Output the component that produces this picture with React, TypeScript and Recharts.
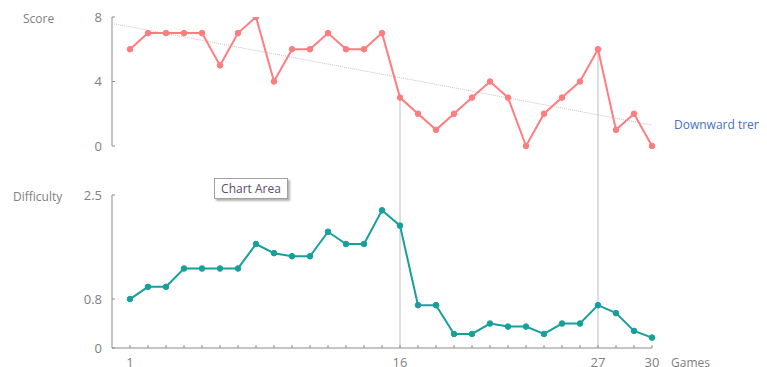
import React from 'react';
import { ComposedChart, Line, XAxis, YAxis, ReferenceLine } from 'recharts';

const games = [1, 2, 3, 4, 5, 6, 7, 8, 9, 10, 11, 12, 13, 14, 15, 16, 17, 18, 19, 20, 21, 22, 23, 24, 25, 26, 27, 28, 29, 30];
const scores = [6, 7, 7, 7, 7, 5, 7, 8, 4, 6, 6, 7, 6, 6, 7, 3, 2, 1, 2, 3, 4, 3, 0, 2, 3, 4, 6, 1, 2, 0];
const difficulty = [0.8, 1.0, 1.0, 1.3, 1.3, 1.3, 1.3, 1.7, 1.55, 1.5, 1.5, 1.9, 1.7, 1.7, 2.25, 2.0, 0.7, 0.7, 0.23, 0.23, 0.4, 0.35, 0.35, 0.23, 0.4, 0.4, 0.7, 0.57, 0.28, 0.17];
const scoreTicks = [0, 4, 8];
const difficultyTicks = [0, 0.8, 2.5];
const labeledGames = [1, 16, 27, 30];
const trendGames = [0, 30];
const trendValues = [7.6, 1.3];
const dropGames = [16, 27];

const data = games.map((g, i) => ({ game: g, score: scores[i], difficulty: difficulty[i] }));
const trendData = trendGames.map((g, i) => ({ game: g, trend: trendValues[i] }));

const FONT = '"Open Sans", "Noto Sans", sans-serif';
const AXIS_COLOR = '#8c8c8c';
const TEXT_COLOR = '#7f7f7f';
const AXIS_X = 104;
const SCORE_DOMAIN: [number, number] = [-12.53, 8];
const DIFF_DOMAIN: [number, number] = [0, 5.41];

const YTick = (props: any) => {
  const { y, payload } = props;
  return (
    <g>
      <line x1={AXIS_X} x2={AXIS_X + 3} y1={y} y2={y} stroke={AXIS_COLOR} />
      <text x={AXIS_X - 10} y={y} dy="0.35em" textAnchor="end" fill={TEXT_COLOR} fontSize={13} fontFamily={FONT}>
        {payload.value}
      </text>
    </g>
  );
};

const XTick = (props: any) => {
  const { x, y, payload } = props;
  return (
    <g>
      <line x1={x} x2={x} y1={y} y2={y - 3} stroke={AXIS_COLOR} />
      {labeledGames.includes(payload.value) && (
        <text x={x} y={y + 14} dy="0.35em" textAnchor="middle" fill={TEXT_COLOR} fontSize={13} fontFamily={FONT}>
          {payload.value}
        </text>
      )}
    </g>
  );
};

const label = (extra: React.CSSProperties): React.CSSProperties => ({
  position: 'absolute',
  fontFamily: FONT,
  fontSize: 12,
  lineHeight: '16px',
  color: TEXT_COLOR,
  whiteSpace: 'nowrap',
  ...extra,
});

export default function App() {
  return (
    <div style={{ position: 'relative', width: 759, height: 359, overflow: 'hidden' }}>
      <ComposedChart width={759} height={359} data={data} margin={{ top: 9, right: 114, bottom: 0, left: 0 }}>
        <XAxis
          dataKey="game"
          type="number"
          domain={[0, 30]}
          ticks={games}
          interval={0}
          tickSize={0}
          tickMargin={0}
          height={19}
          axisLine={{ stroke: AXIS_COLOR }}
          tickLine={false}
          tick={<XTick />}
        />
        <YAxis
          yAxisId="s"
          orientation="left"
          width={104}
          domain={SCORE_DOMAIN}
          ticks={scoreTicks}
          interval={0}
          allowDataOverflow
          axisLine={false}
          tickLine={false}
          tick={<YTick />}
        />
        <YAxis
          yAxisId="d"
          orientation="right"
          width={1}
          domain={DIFF_DOMAIN}
          ticks={difficultyTicks}
          interval={0}
          allowDataOverflow
          axisLine={false}
          tickLine={false}
          tick={<YTick />}
        />
        <ReferenceLine yAxisId="s" segment={[{ x: 0, y: 0 }, { x: 0, y: 8 }]} stroke={AXIS_COLOR} strokeWidth={1} />
        <ReferenceLine yAxisId="d" segment={[{ x: 0, y: 0 }, { x: 0, y: 2.5 }]} stroke={AXIS_COLOR} strokeWidth={1} />
        {dropGames.map((g) => (
          <ReferenceLine
            key={g}
            yAxisId="s"
            segment={[{ x: g, y: scores[games.indexOf(g)] }, { x: g, y: SCORE_DOMAIN[0] }]}
            stroke="#c8c8c8"
            strokeWidth={1.2}
          />
        ))}
        <Line
          yAxisId="s"
          data={trendData}
          dataKey="trend"
          type="linear"
          stroke="#c4c4c4"
          strokeWidth={1}
          strokeDasharray="1 1"
          dot={false}
          activeDot={false}
          isAnimationActive={false}
        />
        <Line
          yAxisId="s"
          dataKey="score"
          type="linear"
          stroke="#ff7c80"
          strokeWidth={2}
          dot={{ r: 2.8, fill: '#ff7c80', stroke: '#ff7c80', strokeWidth: 1 }}
          activeDot={false}
          isAnimationActive={false}
        />
        <Line
          yAxisId="d"
          dataKey="difficulty"
          type="linear"
          stroke="#17a09b"
          strokeWidth={2}
          dot={{ r: 2.8, fill: '#17a09b', stroke: '#17a09b', strokeWidth: 1 }}
          activeDot={false}
          isAnimationActive={false}
        />
      </ComposedChart>
      <span style={label({ left: 15, top: 3 })}>Score</span>
      <span style={label({ left: 5, top: 181 })}>Difficulty</span>
      <span style={label({ left: 663, top: 347 })}>Games</span>
      <span style={label({ left: 666, top: 109, color: '#4472c4', fontSize: 12 })}>Downward trend</span>
      <div
        style={{
          position: 'absolute',
          left: 206,
          top: 170,
          width: 72,
          height: 19,
          border: '1px solid #a0a0a0',
          background: '#fff',
          boxShadow: '2px 2px 2px rgba(0,0,0,0.3)',
          fontFamily: FONT,
          fontSize: 12,
          lineHeight: '19px',
          textAlign: 'center',
          color: '#5e4d6e',
        }}
      >
        Chart Area
      </div>
    </div>
  );
}
